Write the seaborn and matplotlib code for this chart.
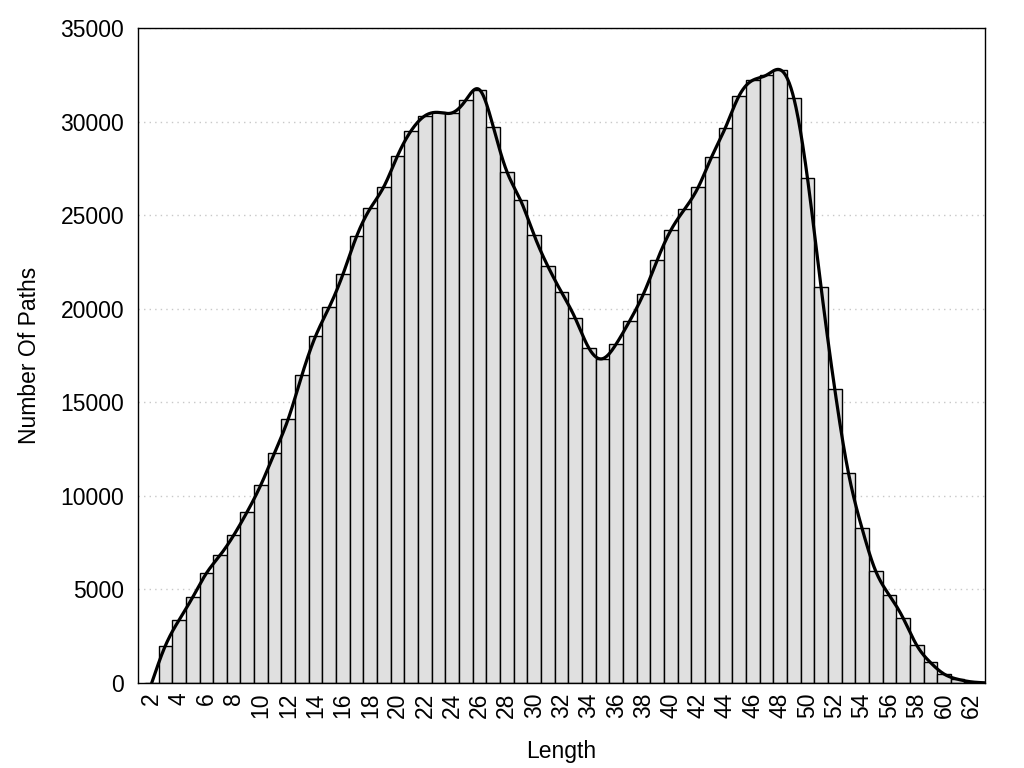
import matplotlib
matplotlib.use("Agg")
import matplotlib.pyplot as plt
import numpy as np
import pandas as pd
import seaborn as sns

# path length -> number of paths
lengths = list(range(2, 64))
counts = [
    0, 1990, 3360, 4580, 5860, 6820, 7890, 9160, 10600, 12310,
    14120, 16460, 18540, 20090, 21840, 23870, 25360, 26530, 28180, 29520,
    30310, 30490, 30470, 31150, 31700, 29730, 27330, 25800, 23920, 22270,
    20880, 19500, 17900, 17330, 18110, 19360, 20790, 22590, 24190, 25310,
    26480, 28130, 29680, 31380, 32210, 32480, 32770, 31270, 27010, 21150,
    15720, 11240, 8260, 5980, 4690, 3480, 2020, 1100, 480, 200,
    60, 10,
]
y_ticks = [0, 5000, 10000, 15000, 20000, 25000, 30000, 35000]


def natural_spline(x, y, n=1500):
    # plain natural cubic spline, like gnuplot's "smooth csplines"
    x = np.asarray(x, float)
    y = np.asarray(y, float)
    m = len(x)
    h = np.diff(x)
    A = np.zeros((m, m))
    b = np.zeros(m)
    A[0, 0] = A[-1, -1] = 1
    for i in range(1, m - 1):
        A[i, i - 1] = h[i - 1]
        A[i, i] = 2 * (h[i - 1] + h[i])
        A[i, i + 1] = h[i]
        b[i] = 3 * ((y[i + 1] - y[i]) / h[i] - (y[i] - y[i - 1]) / h[i - 1])
    c = np.linalg.solve(A, b)
    xs = np.linspace(x[0], x[-1], n)
    idx = np.clip(np.searchsorted(x, xs) - 1, 0, m - 2)
    dx = xs - x[idx]
    bb = (y[idx + 1] - y[idx]) / h[idx] - h[idx] * (c[idx + 1] + 2 * c[idx]) / 3
    d = (c[idx + 1] - c[idx]) / (3 * h[idx])
    ys = y[idx] + bb * dx + c[idx] * dx**2 + d * dx**3
    return xs, ys


sns.set_style("white")
plt.rcParams["font.family"] = ["Liberation Sans", "DejaVu Sans"]
plt.rcParams["font.size"] = 16.5
plt.rcParams["text.color"] = "black"
plt.rcParams["axes.labelcolor"] = "black"
plt.rcParams["xtick.color"] = "black"
plt.rcParams["ytick.color"] = "black"

df = pd.DataFrame({"Length": lengths, "Paths": counts})
sx, sy = natural_spline(lengths, counts)
smooth = pd.DataFrame({"Length": sx, "Paths": sy})

fig, ax = plt.subplots(figsize=(10.24, 7.68), dpi=100)
fig.subplots_adjust(left=0.1348, right=0.9619, top=0.9635, bottom=0.1107)

ax.set_axisbelow(True)
ax.grid(axis="y", color="#c8c8c8", linestyle=(0, (1, 3)), linewidth=1)

sns.histplot(data=df, x="Length", weights="Paths", discrete=True, shrink=1,
             color="#e0e0e0", edgecolor="black", linewidth=1.0, alpha=1, ax=ax)
sns.lineplot(data=smooth, x="Length", y="Paths", color="black", linewidth=2.3,
             ax=ax, zorder=5)

ax.set_xlim(1, 63)
ax.set_ylim(0, 35000)
ax.set_yticks(y_ticks)
ax.set_xticks(range(1, 64))
ax.set_xticklabels([str(v) if v % 2 == 0 else "" for v in range(1, 64)], rotation=90)
ax.tick_params(axis="both", direction="in", length=8, width=1, color="black",
               labelcolor="black", labelsize=16.5, pad=10)
ax.tick_params(axis="x", pad=7)

for s in ax.spines.values():
    s.set_color("black")
    s.set_linewidth(1.0)

ax.set_xlabel("Length", fontsize=16.5, labelpad=16)
ax.set_ylabel("Number Of Paths", fontsize=16.5, labelpad=14)

plt.savefig("out.png", dpi=100)
